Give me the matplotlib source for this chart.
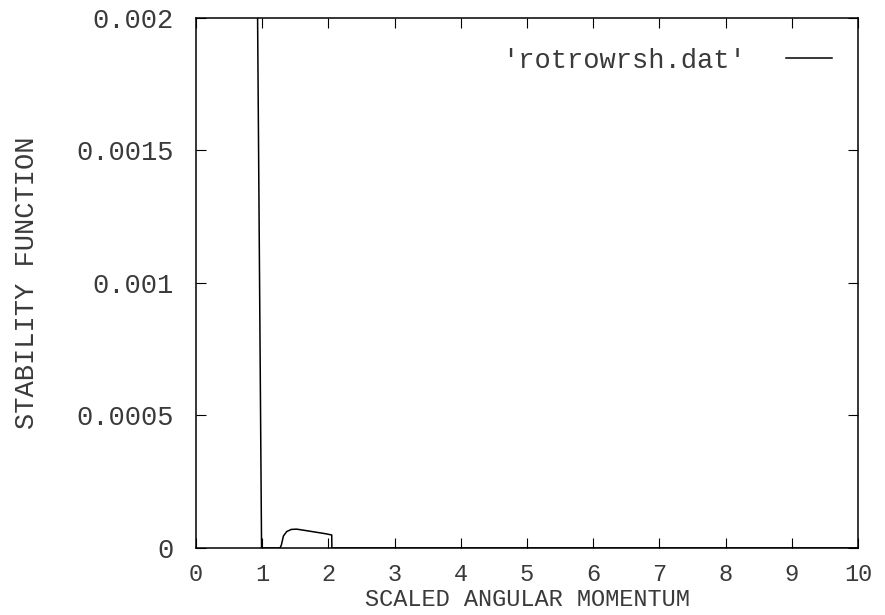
import matplotlib
matplotlib.use("Agg")
import matplotlib.pyplot as plt

# curva (x = momento angular escalado, y = funcao de estabilidade)
x_val = [0.0, 0.5, 0.90, 0.93, 0.99, 1.0, 1.27, 1.29, 1.32, 1.37, 1.44, 1.52, 1.65, 1.80, 1.95, 2.05, 2.052, 2.1, 10.0]
y_val = [0.004, 0.004, 0.0030, 0.0020, 0.0, 0.0, 0.0, 0.000012, 0.000045, 0.000062, 0.000070, 0.000071, 0.000066, 0.000060, 0.000054, 0.000049, 0.0, 0.0, 0.0]
xticks = list(range(0, 11))
yticks = [0, 0.0005, 0.001, 0.0015, 0.002]
ylabels = ["0", "0.0005", "0.001", "0.0015", "0.002"]

mono = "Liberation Mono"
tinta = "#3a3a3a"
fs = 19.5
fs_x = 17

fig = plt.figure(figsize=(8.85, 6.15), dpi=100)
ax = fig.add_axes([0.2215, 0.109, 0.748, 0.862])
ax.plot(x_val, y_val, color="black", lw=1.1, label="'rotrowrsh.dat'")
ax.set_xlim(0, 10)
ax.set_ylim(0, 0.002)
ax.set_xticks(xticks)
ax.set_xticklabels([str(t) for t in xticks], fontfamily=mono, fontsize=fs_x, color=tinta)
ax.set_yticks(yticks)
ax.set_yticklabels(ylabels, fontfamily=mono, fontsize=fs, color=tinta)
ax.tick_params(axis="x", direction="in", length=7, top=True, width=0.8, pad=11)
ax.tick_params(axis="y", direction="in", length=7, right=True, width=0.8, pad=16)
for s in ax.spines.values():
    s.set_linewidth(1.1)
ax.set_xlabel("SCALED ANGULAR MOMENTUM", fontfamily=mono, fontsize=fs_x, labelpad=1, color=tinta)
ax.set_ylabel("STABILITY FUNCTION", fontfamily=mono, fontsize=fs, labelpad=26, color=tinta)
leg = ax.legend(loc="upper right", frameon=False, handlelength=1.7, handletextpad=1.5,
                prop={"family": mono, "size": fs}, markerfirst=False,
                bbox_to_anchor=(0.998, 0.99))
for t in leg.get_texts():
    t.set_color(tinta)

fig.savefig("out.png", dpi=100)
